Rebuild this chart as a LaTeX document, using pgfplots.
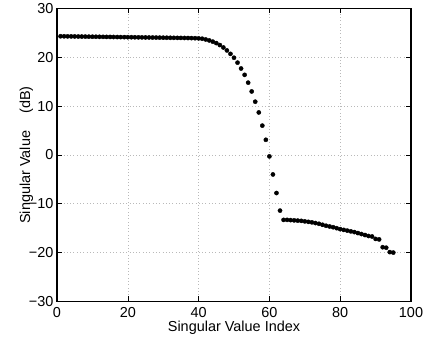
\documentclass[border=0pt]{standalone}
\usepackage{pgfplots}
\pgfplotsset{compat=1.18}
\usepackage{fontspec}
\setmainfont{Liberation Sans}
\begin{document}
\begin{tikzpicture}
\begin{axis}[
  scale only axis, width=354bp, height=293bp,
  xmin=0, xmax=100, ymin=-30, ymax=30,
  xtick={0,20,40,60,80,100},
  ytick={-30,-20,-10,0,10,20,30},
  yticklabels={−30,−20,−10,0,10,20,30},
  /pgf/number format/assume math mode=true,
  grid=major,
  major grid style={dash pattern=on 0.7bp off 2.6bp, gray!55, line width=0.6pt},
  axis line style={line width=1.1pt},
  tick align=inside, major tick length=5bp,
  tick style={black, line width=0.6pt},
  font=\fontsize{14.5}{17}\selectfont,
  xlabel={Singular Value Index},
  ylabel={Singular Value\hspace{1.2em}(dB)},
  xlabel style={yshift=3bp},
  ylabel style={yshift=-11bp},
  xticklabel style={yshift=-2bp},
]
\addplot[only marks, mark=*, mark size=2.1bp, black] table {
x y
1 24.3
2 24.29
3 24.28
4 24.27
5 24.26
6 24.25
7 24.24
8 24.23
9 24.22
10 24.21
11 24.2
12 24.19
13 24.18
14 24.17
15 24.16
16 24.15
17 24.14
18 24.13
19 24.12
20 24.11
21 24.1
22 24.09
23 24.08
24 24.07
25 24.06
26 24.05
27 24.04
28 24.03
29 24.02
30 24.01
31 24.0
32 23.99
33 23.98
34 23.97
35 23.96
36 23.95
37 23.94
38 23.92
39 23.9
40 23.87
41 23.8
42 23.65
43 23.45
44 23.2
45 22.9
46 22.5
47 22.0
48 21.4
49 20.7
50 19.9
51 18.9
52 17.7
53 16.4
54 14.8
55 13.0
56 10.9
57 8.7
58 6.0
59 3.1
60 -0.3
61 -4.0
62 -7.8
63 -11.4
64 -13.3
65 -13.3
66 -13.35
67 -13.4
68 -13.45
69 -13.5
70 -13.6
71 -13.7
72 -13.8
73 -13.95
74 -14.1
75 -14.3
76 -14.5
77 -14.65
78 -14.8
79 -15.0
80 -15.2
81 -15.35
82 -15.5
83 -15.65
84 -15.8
85 -16.0
86 -16.2
87 -16.4
88 -16.6
89 -16.7
90 -17.2
91 -17.3
92 -18.9
93 -19.0
94 -19.9
95 -20.0
};
\end{axis}
\path[use as bounding box] ([shift={(-57bp,-42bp)}]current axis.south west) rectangle ([shift={(16bp,8bp)}]current axis.north east);
\end{tikzpicture}
\end{document}
